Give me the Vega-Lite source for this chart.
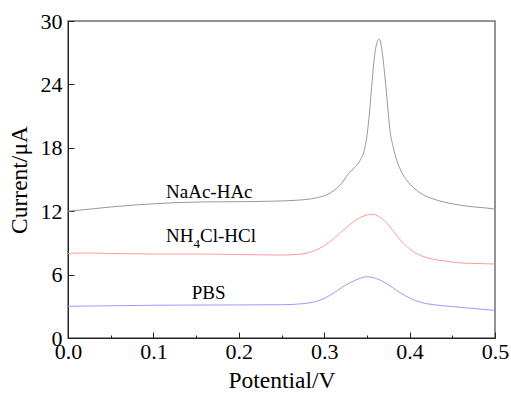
{
  "$schema": "https://vega.github.io/schema/vega-lite/v6.json",
  "width": 427,
  "height": 317,
  "autosize": {"type": "none"},
  "padding": {"left": 68, "top": 21, "right": 16, "bottom": 55},
  "background": "white",
  "config": {
    "view": {"stroke": "#707070", "strokeWidth": 1.5},
    "font": "Liberation Serif",
    "axis": {
      "labelFont": "Liberation Serif",
      "labelFontSize": 22,
      "labelColor": "black",
      "titleFont": "Liberation Serif",
      "titleFontSize": 23.5,
      "titleFontWeight": "normal",
      "titleColor": "black",
      "domainColor": "#222",
      "tickColor": "#222",
      "grid": false,
      "labelFlush": false,
      "labelOverlap": false,
      "labelBound": false
    }
  },
  "data": {
    "values": [
      {"s": "NaAc-HAc", "V": 0.0, "I": 12.0},
      {"s": "NaAc-HAc", "V": 0.02, "I": 12.15},
      {"s": "NaAc-HAc", "V": 0.05, "I": 12.4},
      {"s": "NaAc-HAc", "V": 0.08, "I": 12.6},
      {"s": "NaAc-HAc", "V": 0.1, "I": 12.7},
      {"s": "NaAc-HAc", "V": 0.13, "I": 12.82},
      {"s": "NaAc-HAc", "V": 0.16, "I": 12.88},
      {"s": "NaAc-HAc", "V": 0.2, "I": 12.9},
      {"s": "NaAc-HAc", "V": 0.24, "I": 12.95},
      {"s": "NaAc-HAc", "V": 0.27, "I": 13.05},
      {"s": "NaAc-HAc", "V": 0.29, "I": 13.25},
      {"s": "NaAc-HAc", "V": 0.303, "I": 13.55},
      {"s": "NaAc-HAc", "V": 0.312, "I": 14.0},
      {"s": "NaAc-HAc", "V": 0.32, "I": 14.6},
      {"s": "NaAc-HAc", "V": 0.328, "I": 15.5},
      {"s": "NaAc-HAc", "V": 0.335, "I": 16.1},
      {"s": "NaAc-HAc", "V": 0.342, "I": 16.8},
      {"s": "NaAc-HAc", "V": 0.347, "I": 17.8},
      {"s": "NaAc-HAc", "V": 0.3505, "I": 19.4},
      {"s": "NaAc-HAc", "V": 0.353, "I": 21.3},
      {"s": "NaAc-HAc", "V": 0.3556, "I": 23.8},
      {"s": "NaAc-HAc", "V": 0.358, "I": 26.0},
      {"s": "NaAc-HAc", "V": 0.36, "I": 27.3},
      {"s": "NaAc-HAc", "V": 0.3625, "I": 28.1},
      {"s": "NaAc-HAc", "V": 0.3642, "I": 28.3},
      {"s": "NaAc-HAc", "V": 0.366, "I": 28.0},
      {"s": "NaAc-HAc", "V": 0.368, "I": 27.0},
      {"s": "NaAc-HAc", "V": 0.372, "I": 24.0},
      {"s": "NaAc-HAc", "V": 0.375, "I": 21.3},
      {"s": "NaAc-HAc", "V": 0.377, "I": 19.7},
      {"s": "NaAc-HAc", "V": 0.381, "I": 18.0},
      {"s": "NaAc-HAc", "V": 0.385, "I": 16.8},
      {"s": "NaAc-HAc", "V": 0.39, "I": 15.8},
      {"s": "NaAc-HAc", "V": 0.397, "I": 14.9},
      {"s": "NaAc-HAc", "V": 0.405, "I": 14.2},
      {"s": "NaAc-HAc", "V": 0.415, "I": 13.6},
      {"s": "NaAc-HAc", "V": 0.43, "I": 13.1},
      {"s": "NaAc-HAc", "V": 0.45, "I": 12.7},
      {"s": "NaAc-HAc", "V": 0.47, "I": 12.45},
      {"s": "NaAc-HAc", "V": 0.49, "I": 12.3},
      {"s": "NaAc-HAc", "V": 0.5, "I": 12.2},
      {"s": "NH4Cl-HCl", "V": 0.0, "I": 8.0},
      {"s": "NH4Cl-HCl", "V": 0.02, "I": 8.05},
      {"s": "NH4Cl-HCl", "V": 0.05, "I": 8.0},
      {"s": "NH4Cl-HCl", "V": 0.1, "I": 7.95},
      {"s": "NH4Cl-HCl", "V": 0.15, "I": 7.95},
      {"s": "NH4Cl-HCl", "V": 0.2, "I": 7.9},
      {"s": "NH4Cl-HCl", "V": 0.25, "I": 7.85},
      {"s": "NH4Cl-HCl", "V": 0.27, "I": 7.92},
      {"s": "NH4Cl-HCl", "V": 0.285, "I": 8.15},
      {"s": "NH4Cl-HCl", "V": 0.295, "I": 8.5},
      {"s": "NH4Cl-HCl", "V": 0.305, "I": 9.0},
      {"s": "NH4Cl-HCl", "V": 0.318, "I": 9.9},
      {"s": "NH4Cl-HCl", "V": 0.328, "I": 10.6},
      {"s": "NH4Cl-HCl", "V": 0.338, "I": 11.2},
      {"s": "NH4Cl-HCl", "V": 0.348, "I": 11.6},
      {"s": "NH4Cl-HCl", "V": 0.356, "I": 11.72},
      {"s": "NH4Cl-HCl", "V": 0.364, "I": 11.5},
      {"s": "NH4Cl-HCl", "V": 0.373, "I": 10.9},
      {"s": "NH4Cl-HCl", "V": 0.381, "I": 10.1},
      {"s": "NH4Cl-HCl", "V": 0.389, "I": 9.3},
      {"s": "NH4Cl-HCl", "V": 0.397, "I": 8.65},
      {"s": "NH4Cl-HCl", "V": 0.404, "I": 8.2},
      {"s": "NH4Cl-HCl", "V": 0.415, "I": 7.75},
      {"s": "NH4Cl-HCl", "V": 0.428, "I": 7.45},
      {"s": "NH4Cl-HCl", "V": 0.445, "I": 7.25},
      {"s": "NH4Cl-HCl", "V": 0.46, "I": 7.1},
      {"s": "NH4Cl-HCl", "V": 0.48, "I": 7.05},
      {"s": "NH4Cl-HCl", "V": 0.5, "I": 7.0},
      {"s": "PBS", "V": 0.0, "I": 3.0},
      {"s": "PBS", "V": 0.02, "I": 3.02},
      {"s": "PBS", "V": 0.05, "I": 3.05},
      {"s": "PBS", "V": 0.1, "I": 3.1},
      {"s": "PBS", "V": 0.15, "I": 3.12},
      {"s": "PBS", "V": 0.2, "I": 3.13},
      {"s": "PBS", "V": 0.25, "I": 3.15},
      {"s": "PBS", "V": 0.275, "I": 3.25},
      {"s": "PBS", "V": 0.29, "I": 3.45},
      {"s": "PBS", "V": 0.3, "I": 3.75},
      {"s": "PBS", "V": 0.312, "I": 4.3},
      {"s": "PBS", "V": 0.322, "I": 4.85},
      {"s": "PBS", "V": 0.332, "I": 5.3},
      {"s": "PBS", "V": 0.342, "I": 5.65},
      {"s": "PBS", "V": 0.35, "I": 5.8},
      {"s": "PBS", "V": 0.357, "I": 5.72},
      {"s": "PBS", "V": 0.365, "I": 5.5},
      {"s": "PBS", "V": 0.375, "I": 5.05},
      {"s": "PBS", "V": 0.385, "I": 4.5},
      {"s": "PBS", "V": 0.395, "I": 4.0},
      {"s": "PBS", "V": 0.408, "I": 3.5},
      {"s": "PBS", "V": 0.42, "I": 3.25},
      {"s": "PBS", "V": 0.436, "I": 3.08},
      {"s": "PBS", "V": 0.45, "I": 2.97},
      {"s": "PBS", "V": 0.467, "I": 2.85},
      {"s": "PBS", "V": 0.485, "I": 2.72},
      {"s": "PBS", "V": 0.5, "I": 2.62}
    ]
  },
  "layer": [
    {
      "mark": {"type": "line", "strokeWidth": 1, "interpolate": "monotone"},
      "encoding": {
        "x": {
          "field": "V", "type": "quantitative",
          "scale": {"domain": [0, 0.5], "nice": false},
          "axis": {
            "title": "Potential/V",
            "values": [0, 0.05, 0.1, 0.15, 0.2, 0.25, 0.3, 0.35, 0.4, 0.45, 0.5],
            "labelExpr": "round(datum.value*100) % 10 == 0 ? format(datum.value, '.1f') : ''",
            "tickSize": {"condition": {"test": "round(datum.value*100) % 10 != 0", "value": -3}, "value": -6},
            "labelPadding": 9,
            "titlePadding": 3
          }
        },
        "y": {
          "field": "I", "type": "quantitative",
          "scale": {"domain": [0, 30], "nice": false},
          "axis": {
            "title": "Current/μA",
            "values": [0, 3, 6, 9, 12, 15, 18, 21, 24, 27, 30],
            "labelExpr": "datum.value % 6 == 0 ? format(datum.value, 'd') : ''",
            "tickSize": {"condition": {"test": "datum.value % 6 != 0", "value": -3}, "value": -6},
            "labelPadding": 12,
            "titlePadding": 9
          }
        },
        "color": {
          "field": "s", "type": "nominal",
          "scale": {"domain": ["NaAc-HAc", "NH4Cl-HCl", "PBS"], "range": ["#999999", "#ff9a9a", "#9a9aff"]},
          "legend": null
        }
      }
    },
    {
      "data": {
        "values": [
          {"t": "NaAc-HAc", "V": 0.1148, "I": 13.25, "f": 19},
          {"t": "NH", "V": 0.1148, "I": 9.1, "f": 19},
          {"t": "4", "V": 0.1469, "I": 8.5, "f": 13},
          {"t": "Cl-HCl", "V": 0.1546, "I": 9.1, "f": 19},
          {"t": "PBS", "V": 0.1448, "I": 3.69, "f": 19}
        ]
      },
      "mark": {"type": "text", "align": "left", "baseline": "alphabetic", "font": "Liberation Serif", "color": "black"},
      "encoding": {
        "x": {"field": "V", "type": "quantitative"},
        "y": {"field": "I", "type": "quantitative"},
        "text": {"field": "t"},
        "size": {"field": "f", "type": "quantitative", "scale": null}
      }
    }
  ]
}
